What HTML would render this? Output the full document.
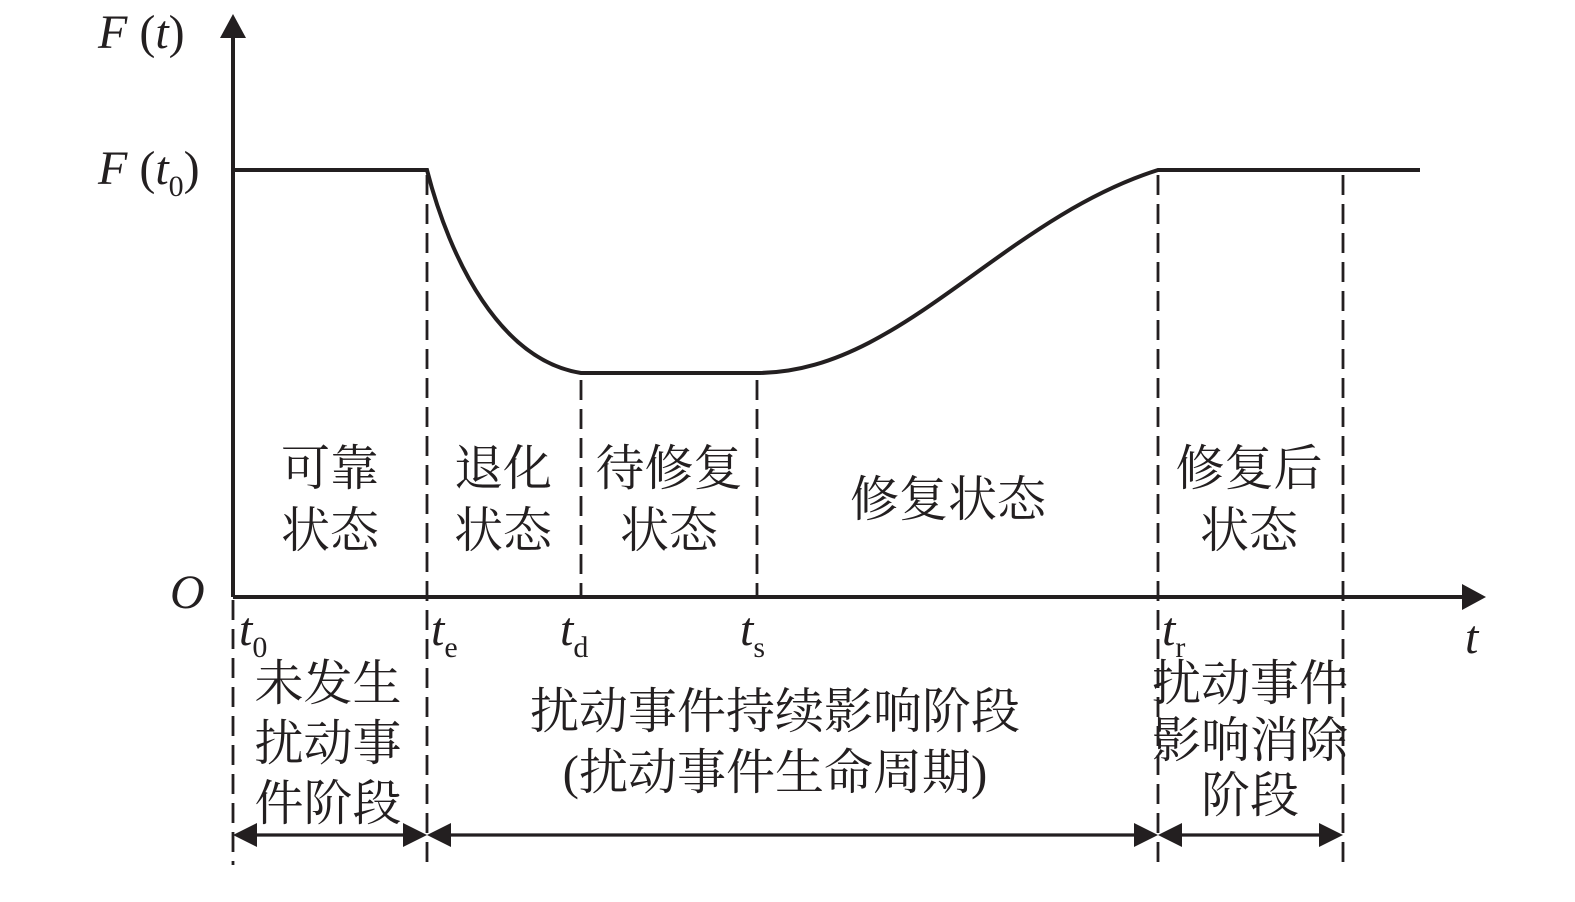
<!DOCTYPE html>
<html><head><meta charset="utf-8"><style>
html,body{margin:0;padding:0;background:#fff;}
svg{display:block;}
.cn{font-family:"Liberation Serif","Noto Serif CJK SC","Noto Sans CJK SC",serif;font-size:49px;fill:#231f20;}
.m{font-family:"Liberation Serif",serif;font-style:italic;font-size:48px;fill:#231f20;}
.s{font-family:"Liberation Serif",serif;font-style:normal;font-size:30px;}
</style></head><body>
<svg width="1575" height="902" viewBox="0 0 1575 902" xmlns="http://www.w3.org/2000/svg">
<g stroke="#231f20" fill="none" stroke-width="4">
<line x1="233" y1="597" x2="233" y2="35"/>
<line x1="233" y1="597" x2="1465" y2="597"/>
<path d="M233 170 H427 C450 260 500 360 581 373 H757 C900 373 1000 220 1158 170 H1420"/>
</g>
<polygon points="233,14 220,38 246,38" fill="#231f20"/>
<polygon points="1486,597 1462,584 1462,610" fill="#231f20"/>
<g stroke="#231f20" stroke-width="2.8" stroke-dasharray="20,9" fill="none">
<line x1="427" y1="175" x2="427" y2="865"/>
<line x1="581" y1="380" x2="581" y2="597"/>
<line x1="757" y1="380" x2="757" y2="597"/>
<line x1="1158" y1="175" x2="1158" y2="865"/>
<line x1="1343" y1="175" x2="1343" y2="865"/>
<line x1="233" y1="600" x2="233" y2="865"/>
</g>
<g stroke="#231f20" stroke-width="3.2" fill="none">
<line x1="245" y1="835" x2="415" y2="835"/>
<line x1="439" y1="835" x2="1146" y2="835"/>
<line x1="1170" y1="835" x2="1331" y2="835"/>
</g>
<g fill="#231f20">
<polygon points="233,835 257,823 257,847"/>
<polygon points="427,835 403,823 403,847"/>
<polygon points="427,835 451,823 451,847"/>
<polygon points="1158,835 1134,823 1134,847"/>
<polygon points="1158,835 1182,823 1182,847"/>
<polygon points="1343,835 1319,823 1319,847"/>
</g>
<text class="m" x="98" y="48">F <tspan font-style="normal">(</tspan>t<tspan font-style="normal">)</tspan></text>
<text class="m" x="98" y="184">F <tspan font-style="normal">(</tspan>t<tspan class="s" dy="12">0</tspan><tspan font-style="normal" dy="-12">)</tspan></text>
<text class="m" x="170" y="608">O</text>
<text class="m" x="1465" y="653">t</text>
<text class="m" x="239" y="645">t<tspan class="s" dy="12">0</tspan></text>
<text class="m" x="431" y="645">t<tspan class="s" dy="12">e</tspan></text>
<text class="m" x="560" y="645">t<tspan class="s" dy="12">d</tspan></text>
<text class="m" x="740" y="645">t<tspan class="s" dy="12">s</tspan></text>
<text class="m" x="1162" y="645">t<tspan class="s" dy="12">r</tspan></text>
<g class="cn" text-anchor="middle">
<text x="330" y="485">可靠</text><text x="330" y="547">状态</text>
<text x="503" y="485">退化</text><text x="503" y="547">状态</text>
<text x="669" y="485">待修复</text><text x="669" y="547">状态</text>
<text x="948" y="516">修复状态</text>
<text x="1249" y="485">修复后</text><text x="1249" y="547">状态</text>
<text x="328" y="700">未发生</text><text x="328" y="760">扰动事</text><text x="328" y="820">件阶段</text>
<text x="775" y="728">扰动事件持续影响阶段</text>
<text x="775" y="789">(扰动事件生命周期)</text>
<text x="1250" y="700">扰动事件</text><text x="1250" y="757">影响消除</text><text x="1250" y="812">阶段</text>
</g>
</svg>
</body></html>
